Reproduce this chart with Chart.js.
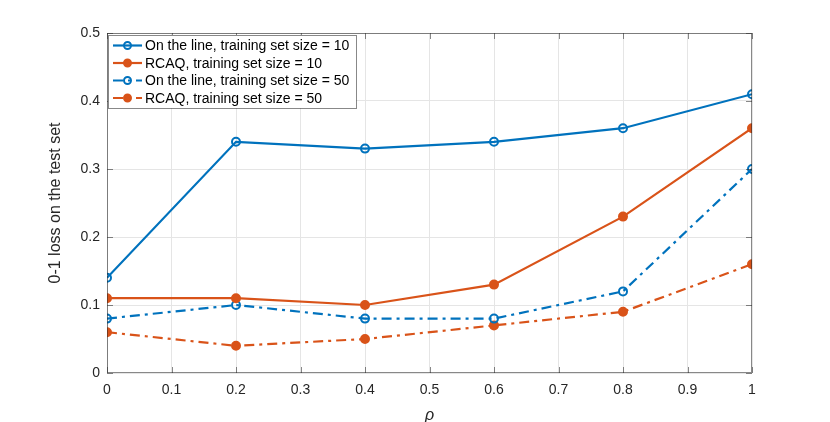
<!DOCTYPE html>
<html>
<head>
<meta charset="utf-8">
<script src="https://cdn.jsdelivr.net/npm/chart.js@4.4.0/dist/chart.umd.min.js"></script>
<style>
  body { margin: 0; background: #fff; }
  #wrap { width: 830px; height: 422px; }
</style>
</head>
<body>
<div id="wrap"><canvas id="grafico"></canvas></div>
<script>
// datos
const rho = [0, 0.2, 0.4, 0.6, 0.8, 1];
const lineaN10 = [0.14, 0.34, 0.33, 0.34, 0.36, 0.41];
const rcaqN10 = [0.11, 0.11, 0.10, 0.13, 0.23, 0.36];
const lineaN50 = [0.08, 0.10, 0.08, 0.08, 0.12, 0.30];
const rcaqN50 = [0.06, 0.04, 0.05, 0.07, 0.09, 0.16];
const etiquetas = [
    'On the line, training set size = 10',
    'RCAQ, training set size = 10',
    'On the line, training set size = 50',
    'RCAQ, training set size = 50'
];

const AZUL = '#0072BD';
const NARANJA = '#D95319';
const PUNTO_RAYA = [10, 5, 3, 5];
const FUENTE = '"Liberation Sans", Arial, sans-serif';
const VACIO = 'rgba(0,0,0,0)';

function serie(label, valores, color, relleno, dash) {
    return {
        label: label,
        data: rho.map((x, i) => ({ x: x, y: valores[i] })),
        borderColor: color,
        backgroundColor: relleno ? color : VACIO,
        pointBackgroundColor: relleno ? color : VACIO,
        pointBorderColor: color,
        pointBorderWidth: 2,
        pointRadius: 4,
        borderWidth: 2.2,
        borderDash: dash,
        tension: 0
    };
}

// caja, ticks hacia adentro y leyenda estilo MATLAB
const estiloMatlab = {
    id: 'estiloMatlab',
    afterDatasetsDraw(chart) {
        const ctx = chart.ctx;
        const a = chart.chartArea;
        const sx = chart.scales.x, sy = chart.scales.y;
        ctx.save();
        ctx.strokeStyle = '#262626';
        ctx.lineWidth = 1;
        ctx.globalAlpha = 0.55;
        ctx.strokeRect(a.left + 0.5, a.top + 0.5, a.right - a.left - 1, a.bottom - a.top - 1);
        ctx.beginPath();
        sx.ticks.forEach(t => {
            const px = Math.round(sx.getPixelForValue(t.value)) + 0.5;
            ctx.moveTo(px, a.bottom); ctx.lineTo(px, a.bottom - 6);
            ctx.moveTo(px, a.top); ctx.lineTo(px, a.top + 6);
        });
        sy.ticks.forEach(t => {
            const py = Math.round(sy.getPixelForValue(t.value)) + 0.5;
            ctx.moveTo(a.left, py); ctx.lineTo(a.left + 6, py);
            ctx.moveTo(a.right, py); ctx.lineTo(a.right - 6, py);
        });
        ctx.stroke();
        ctx.globalAlpha = 1;

        // leyenda
        const lx = a.left + 1, ly = a.top + 2, lw = 248, lh = 73;
        ctx.fillStyle = '#ffffff';
        ctx.fillRect(lx, ly, lw, lh);
        ctx.strokeStyle = '#262626';
        ctx.globalAlpha = 0.55;
        ctx.strokeRect(lx + 0.5, ly + 0.5, lw, lh);
        ctx.globalAlpha = 1;
        ctx.font = '14px ' + FUENTE;
        ctx.textBaseline = 'middle';
        chart.data.datasets.forEach((ds, i) => {
            const yy = ly + 10.5 + i * 17.5;
            ctx.strokeStyle = ds.borderColor;
            ctx.lineWidth = 2.2;
            ctx.setLineDash(ds.borderDash || []);
            ctx.beginPath();
            ctx.moveTo(lx + 5, yy); ctx.lineTo(lx + 34, yy);
            ctx.stroke();
            ctx.setLineDash([]);
            ctx.beginPath();
            ctx.arc(lx + 19.5, yy, 3.5, 0, Math.PI * 2);
            ctx.fillStyle = ds.pointBackgroundColor;
            ctx.fill();
            ctx.lineWidth = 2;
            ctx.stroke();
            ctx.fillStyle = '#000000';
            ctx.fillText(ds.label, lx + 37, yy + 1);
        });
        ctx.restore();
    }
};

new Chart(document.getElementById('grafico'), {
    type: 'line',
    data: {
        datasets: [
            serie(etiquetas[0], lineaN10, AZUL, false, []),
            serie(etiquetas[1], rcaqN10, NARANJA, true, []),
            serie(etiquetas[2], lineaN50, AZUL, false, PUNTO_RAYA),
            serie(etiquetas[3], rcaqN50, NARANJA, true, PUNTO_RAYA)
        ]
    },
    options: {
        responsive: true,
        maintainAspectRatio: false,
        animation: false,
        layout: { padding: { left: 0, top: 33, right: 78, bottom: 0 } },
        plugins: {
            legend: { display: false },
            tooltip: { enabled: false }
        },
        scales: {
            x: {
                type: 'linear',
                min: 0, max: 1,
                ticks: {
                    stepSize: 0.1,
                    color: '#262626',
                    font: { family: FUENTE, size: 14 },
                    maxRotation: 0,
                    padding: 9,
                    callback: v => Math.round(v * 10) / 10
                },
                grid: { color: '#e5e5e5', drawTicks: false },
                border: { display: false },
                title: {
                    display: true,
                    text: 'ρ',
                    color: '#262626',
                    font: { family: FUENTE, size: 16, style: 'italic' },
                    padding: { top: 12, bottom: -3 }
                },
                afterFit: s => { s.height = 49; }
            },
            y: {
                min: 0, max: 0.5,
                ticks: {
                    stepSize: 0.1,
                    color: '#262626',
                    font: { family: FUENTE, size: 14 },
                    padding: 7,
                    callback: v => Math.round(v * 10) / 10
                },
                grid: { color: '#e5e5e5', drawTicks: false },
                border: { display: false },
                title: {
                    display: true,
                    text: '0-1 loss on the test set',
                    color: '#262626',
                    font: { family: FUENTE, size: 16 },
                    padding: { top: 46, bottom: 10 }
                },
                afterFit: s => { s.width = 107; }
            }
        }
    },
    plugins: [estiloMatlab]
});
</script>
</body>
</html>
